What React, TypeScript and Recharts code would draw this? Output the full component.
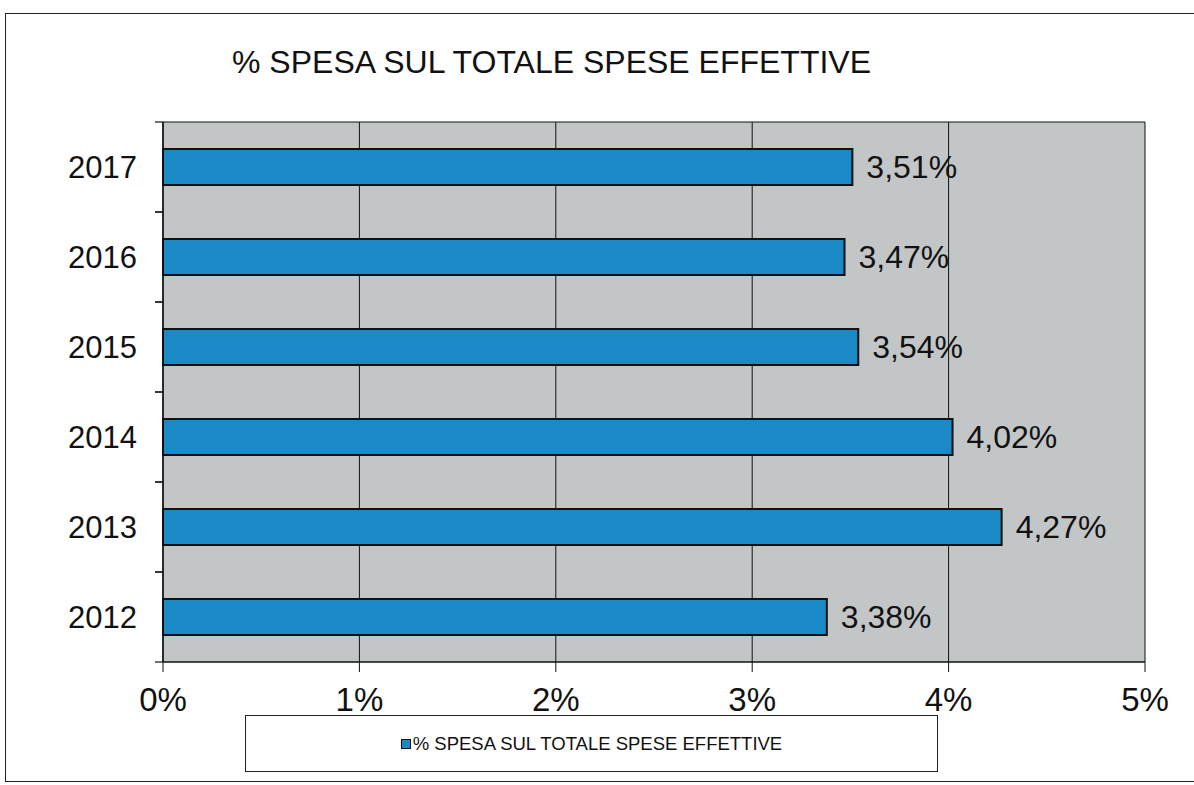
import React from 'react';
import { BarChart, Bar, XAxis, YAxis, CartesianGrid, LabelList, Legend } from 'recharts';

const years = ['2012', '2013', '2014', '2015', '2016', '2017'];
const spesaPct = [3.38, 4.27, 4.02, 3.54, 3.47, 3.51];
const xTicks = [0, 1, 2, 3, 4, 5];
const seriesName = '% SPESA SUL TOTALE SPESE EFFETTIVE';
const chartTitle = '% SPESA SUL TOTALE SPESE EFFETTIVE';

const data = years.map((y, i) => ({ year: y, value: spesaPct[i] }));

const fmtPct = (v: number) => v.toFixed(2).replace('.', ',') + '%';

const YearTick = (props: any) => {
  const { x, y, payload } = props;
  const half = payload && typeof payload.offset === 'number' && payload.offset > 0 ? payload.offset : 45;
  return (
    <g>
      <line x1={x - 8} x2={x} y1={y - half} y2={y - half} stroke="#111" strokeWidth={1.2} />
      <line x1={x - 8} x2={x} y1={y + half} y2={y + half} stroke="#111" strokeWidth={1.2} />
      <text x={x - 26} y={y} textAnchor="end" dominantBaseline="central" fontSize={31} fill="#111" fontFamily="Liberation Sans, Arial, sans-serif">
        {payload.value}
      </text>
    </g>
  );
};

const LegendContent = () => (
  <div style={{ display: 'flex', alignItems: 'center', justifyContent: 'center', height: '100%', fontFamily: 'Liberation Sans, Arial, sans-serif', fontSize: 18.5, color: '#111' }}>
    <span style={{ display: 'inline-block', width: 8, height: 8, background: '#1a8ac6', border: '1px solid #111', marginRight: 2 }} />
    <span>{seriesName}</span>
  </div>
);

export default function App() {
  return (
    <div style={{ position: 'absolute', left: 0, top: 0, width: 1194, height: 785, background: '#fff', fontFamily: 'Liberation Sans, Arial, sans-serif' }}>
      <div style={{ position: 'absolute', left: 5, top: 13, width: 1200, height: 769, border: '1.5px solid #222', boxSizing: 'border-box' }} />
      <div style={{ position: 'absolute', left: 232, top: 44, fontSize: 32, color: '#111', whiteSpace: 'nowrap' }}>{chartTitle}</div>
      <BarChart
        width={1194}
        height={785}
        data={data}
        layout="vertical"
        margin={{ top: 122, right: 49, bottom: 63, left: 103 }}
        barCategoryGap={27}
      >
        <CartesianGrid
          horizontal={true}
          vertical={true}
          horizontalCoordinatesGenerator={({ offset }: any) => [offset.top]}
          stroke="#111"
          strokeWidth={1}
          fill="#c2c6c6"
          strokeOpacity={1}
        />
        <XAxis
          type="number"
          domain={[0, 5]}
          ticks={xTicks}
          tickFormatter={(v: number) => `${v}%`}
          axisLine={{ stroke: '#111', strokeWidth: 1.5 }}
          tickLine={{ stroke: '#111' }}
          tickSize={10}
          tickMargin={16}
          height={60}
          tick={{ fontSize: 33, fill: '#111' }}
        />
        <YAxis
          type="category"
          dataKey="year"
          reversed
          width={60}
          axisLine={{ stroke: '#111', strokeWidth: 1.5 }}
          tickLine={false}
          tickSize={0}
          tickMargin={0}
          interval={0}
          tick={<YearTick />}
        />
        <Legend
          layout="horizontal"
          verticalAlign="middle"
          align="center"
          content={<LegendContent />}
          wrapperStyle={{ left: 245, top: 715, width: 693, height: 57, border: '1.5px solid #222', boxSizing: 'border-box', background: '#fff' }}
        />
        <Bar dataKey="value" name={seriesName} fill="#1a8ac6" stroke="#111" strokeWidth={2} isAnimationActive={false}>
          <LabelList dataKey="value" position="right" offset={14} formatter={(v: any) => fmtPct(Number(v))} style={{ fontSize: 32, fill: '#111' }} />
        </Bar>
      </BarChart>
    </div>
  );
}
